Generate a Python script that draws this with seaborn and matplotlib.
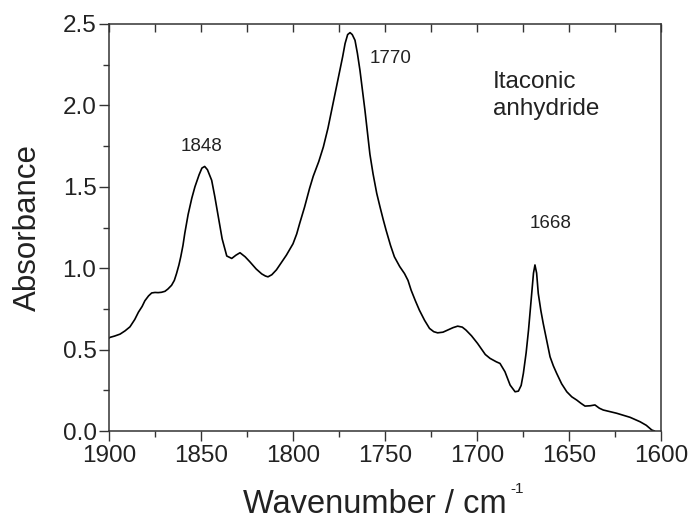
import matplotlib
matplotlib.use("Agg")
import matplotlib.pyplot as plt
import seaborn as sns
import pandas as pd
from matplotlib.ticker import MultipleLocator

wavenumber = [1900, 1899.5, 1897, 1894, 1891.3, 1888.6, 1886, 1884, 1882, 1880.5,
              1878.5, 1876.8, 1875, 1873.3, 1871.5, 1869.6, 1868, 1866, 1864.5, 1863.3,
              1862, 1861, 1859.8, 1858.8, 1857, 1855, 1853.3, 1851, 1849.5,
              1848, 1846.5, 1844.2, 1842.5, 1840.6, 1838.5, 1836, 1833.3, 1831, 1828.8,
              1826, 1823.5, 1820, 1817, 1815, 1813.6, 1811.5, 1809, 1806, 1803.6, 1800,
              1798, 1796.4, 1793.7, 1791, 1789, 1786, 1783.5, 1781, 1779, 1777, 1774.5, 1773,
              1771.7, 1770.3, 1769, 1767.8, 1766.3, 1765, 1763.6, 1762.2, 1760.9, 1759.5,
              1758.2, 1756.5, 1754.5, 1752.7, 1751, 1749.4, 1747, 1744.9, 1742, 1739.4, 1737.5,
              1735.8, 1733.5, 1731.3, 1728.5, 1725.8, 1723.5, 1721.4, 1718.5, 1715.9, 1713, 1710.5,
              1708, 1706, 1703, 1699.7, 1697, 1695.5, 1692.9, 1689.5, 1687.5, 1684.8, 1682, 1679.3, 1677.5,
              1676, 1674.8, 1673.3, 1672, 1670.3, 1669.3, 1668.5, 1667.6, 1666.7, 1665.3,
              1664, 1662, 1660.3, 1658.5, 1656.7, 1654, 1651.2, 1648.5, 1645.8, 1643.5,
              1641.3, 1638.5, 1635.9, 1633.5, 1631.4, 1628, 1624.1, 1620, 1616.8, 1614,
              1611.4, 1608, 1605, 1603.5]
absorbance = [0.57, 0.575, 0.583, 0.595, 0.615, 0.64, 0.685, 0.73, 0.765, 0.80,
              0.83, 0.848, 0.851, 0.85, 0.852, 0.858, 0.872, 0.895, 0.925, 0.967,
              1.02, 1.07, 1.14, 1.215, 1.33, 1.43, 1.50, 1.575, 1.615,
              1.625, 1.605, 1.54, 1.44, 1.315, 1.18, 1.075, 1.06, 1.08, 1.095,
              1.07, 1.04, 0.995, 0.965, 0.952, 0.947, 0.96, 0.99, 1.04, 1.08, 1.15,
              1.21, 1.274, 1.376, 1.49, 1.565, 1.655, 1.745, 1.86, 1.97, 2.08, 2.215, 2.30,
              2.38, 2.435, 2.447, 2.435, 2.40, 2.32, 2.215, 2.09, 1.97, 1.83,
              1.70, 1.58, 1.46, 1.376, 1.30, 1.233, 1.14, 1.07, 1.01, 0.967, 0.925,
              0.865, 0.80, 0.742, 0.68, 0.63, 0.61, 0.603, 0.607, 0.62, 0.635, 0.644,
              0.638, 0.62, 0.585, 0.538, 0.495, 0.47, 0.446, 0.425, 0.415, 0.364, 0.282, 0.241, 0.245,
              0.28, 0.354, 0.48, 0.62, 0.845, 0.97, 1.02, 0.97, 0.845, 0.74,
              0.66, 0.55, 0.456, 0.40, 0.354, 0.29, 0.241, 0.21, 0.19, 0.17,
              0.153, 0.155, 0.16, 0.14, 0.129, 0.12, 0.109, 0.095, 0.084, 0.07,
              0.057, 0.035, 0.006, 0.0]

peak_labels = ["1848", "1770", "1668"]
peak_label_x = [1849.7, 1747, 1659.9]
peak_label_y = [1.746, 2.29, 1.277]
sample_name = "Itaconic\nanhydride"

x_ticks = [1900, 1850, 1800, 1750, 1700, 1650, 1600]
y_ticks = [0.0, 0.5, 1.0, 1.5, 2.0, 2.5]

sns.set_style("ticks")
plt.rcParams['font.family'] = ['Liberation Sans', 'DejaVu Sans']

df = pd.DataFrame({"wn": wavenumber, "A": absorbance})

fig = plt.figure(figsize=(6.92, 5.21), dpi=100)
ax = fig.add_axes([109/692, 1 - 431/521, (661 - 109)/692, (431 - 24)/521])

sns.lineplot(data=df, x="wn", y="A", sort=False, color="black", linewidth=1.2, ax=ax)

ax.set_xlim(1900, 1600)
ax.set_ylim(0, 2.5)
ax.set_xticks(x_ticks)
ax.set_yticks(y_ticks)
ax.set_yticklabels([f"{v:.1f}" for v in y_ticks])
ax.xaxis.set_minor_locator(MultipleLocator(25))
ax.yaxis.set_minor_locator(MultipleLocator(0.25))

ax.tick_params(axis="both", which="major", direction="out", length=7, width=1,
               labelsize=17.5, color="#333333", labelcolor="#222222")
ax.tick_params(axis="both", which="minor", direction="out", length=4, width=1, color="#333333")
ax.tick_params(axis="x", which="major", pad=3)
ax.tick_params(axis="y", which="major", pad=2)

for s in ax.spines.values():
    s.set_visible(True)
    s.set_linewidth(1.1)
    s.set_color("#333333")

top = ax.secondary_xaxis("top")
top.set_xticks(x_ticks)
top.xaxis.set_minor_locator(MultipleLocator(25))
top.tick_params(axis="x", which="both", direction="in", length=6, width=1,
                labeltop=False, color="#333333")
top.spines["top"].set_visible(False)

# x label: "Wavenumber / cm" with a small raised "-1"
ax.set_xlabel("")
fig.text(375/692, 1 - 513/521, "Wavenumber / cm", ha="center", va="baseline",
         fontsize=23.5, color="#222222")
fig.text(510/692, 1 - 489/521, "-1", ha="left", va="center",
         fontsize=11, color="#222222")
ax.set_ylabel("Absorbance", fontsize=22.5, color="#222222", labelpad=14)

for lab, x, y in zip(peak_labels, peak_label_x, peak_label_y):
    ax.text(x, y, lab, ha="center", va="center", fontsize=13.5, color="#222222")

ax.text(1691.2, 2.06, sample_name, ha="left", va="center", fontsize=17.5,
        color="#222222", linespacing=1.3)

fig.savefig("out.png", dpi=100)
